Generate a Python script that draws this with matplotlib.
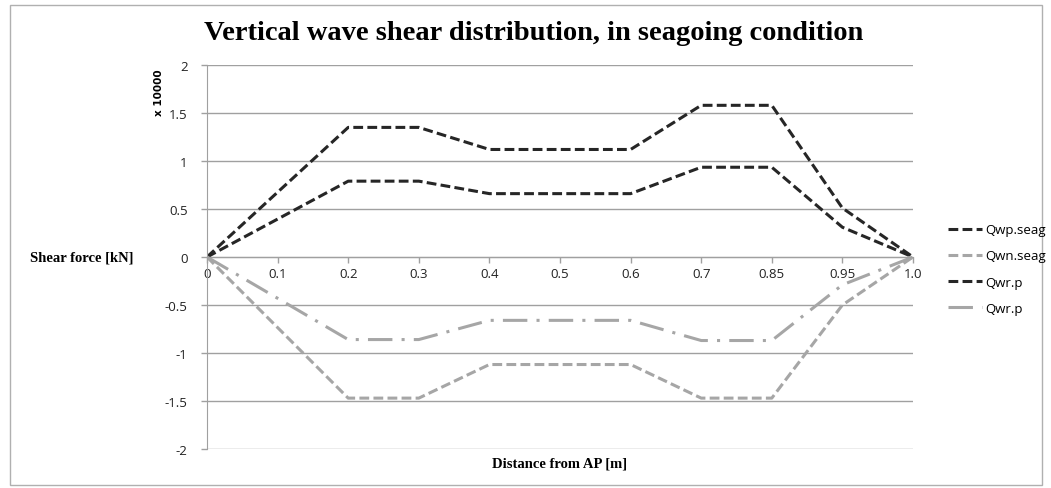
import matplotlib
matplotlib.use("Agg")
import matplotlib.pyplot as plt
from matplotlib.patches import Rectangle

categories = ["0", "0.1", "0.2", "0.3", "0.4", "0.5", "0.6", "0.7", "0.85", "0.95", "1.0"]
qwp_seag = [0, 0.675, 1.35, 1.35, 1.12, 1.12, 1.12, 1.58, 1.58, 0.51, 0]
qwn_seag = [0, -0.735, -1.47, -1.47, -1.12, -1.12, -1.12, -1.47, -1.47, -0.50, 0]
qwr_p_pos = [0, 0.395, 0.79, 0.79, 0.66, 0.66, 0.66, 0.935, 0.935, 0.31, 0]
qwr_p_neg = [0, -0.43, -0.86, -0.86, -0.66, -0.66, -0.66, -0.87, -0.87, -0.29, 0]
y_ticks = [-2, -1.5, -1, -0.5, 0, 0.5, 1, 1.5, 2]

W, H = 1051, 489
fig = plt.figure(figsize=(W / 100, H / 100), dpi=100)
ax = fig.add_axes([207 / W, 1 - 450 / H, (913 - 207) / W, (450 - 66) / H])

x = list(range(len(categories)))
dark = "#262626"
grey = "#a6a6a6"
lw = 2.2
ax.plot(x, qwp_seag, color=dark, lw=lw, dashes=(3.2, 1.4), label="Qwp.seag")
ax.plot(x, qwn_seag, color=grey, lw=lw, dashes=(3.2, 1.4), label="Qwn.seag")
ax.plot(x, qwr_p_pos, color=dark, lw=lw, dashes=(3.2, 1.4), label="Qwr.p")
ax.plot(x, qwr_p_neg, color=grey, lw=lw, dashes=(8, 3, 1, 3), label="Qwr.p")

ax.set_xlim(0, len(categories) - 1)
ax.set_ylim(-2, 2)
ax.set_yticks(y_ticks)
ax.set_yticklabels([f"{v:g}" for v in y_ticks])
ax.set_xticks(x)
ax.set_xticklabels(categories)
ax.yaxis.grid(True, color="#a0a0a0", lw=1)
ax.set_axisbelow(True)

for s in ["top", "right"]:
    ax.spines[s].set_visible(False)
ax.spines["left"].set_color("#a0a0a0")
ax.spines["bottom"].set_position(("data", 0))
ax.spines["bottom"].set_color("#a0a0a0")

ax.tick_params(axis="both", colors="#a0a0a0", labelcolor="#222222", length=4, width=1)
ax.tick_params(axis="x", direction="out", pad=3)
ax.tick_params(axis="y", pad=10)
for lab in ax.get_xticklabels() + ax.get_yticklabels():
    lab.set_fontfamily("Open Sans")
    lab.set_fontsize(9.5)

fig.text(534 / W, 1 - 33 / H, "Vertical wave shear distribution, in seagoing condition",
         ha="center", va="center", fontsize=20.5, fontweight="bold", family="Liberation Serif")
fig.text(30 / W, 1 - 258 / H, "Shear force [kN]", ha="left", va="center",
         fontsize=10.5, fontweight="bold", family="Liberation Serif")
fig.text(560 / W, 1 - 464 / H, "Distance from AP [m]", ha="center", va="center",
         fontsize=10.5, fontweight="bold", family="Liberation Serif")
fig.text(159 / W, 1 - 93 / H, "x 10000", ha="center", va="center", rotation=90,
         fontsize=7.5, fontweight="bold", family="DejaVu Sans")

handles, labels = ax.get_legend_handles_labels()
leg = fig.legend(handles, labels, loc="center left", bbox_to_anchor=(936 / W, 1 - 270 / H),
                 frameon=False, handlelength=2.6, handletextpad=0.2, labelspacing=1.0,
                 prop={"family": "Open Sans", "size": 9.5})

fig.patches.append(Rectangle((10 / W, 1 - 486 / H), (1042 - 10) / W, (486 - 6) / H,
                             transform=fig.transFigure, fill=False, edgecolor="#b0b0b0", lw=1))

fig.savefig("out.png", dpi=100)
